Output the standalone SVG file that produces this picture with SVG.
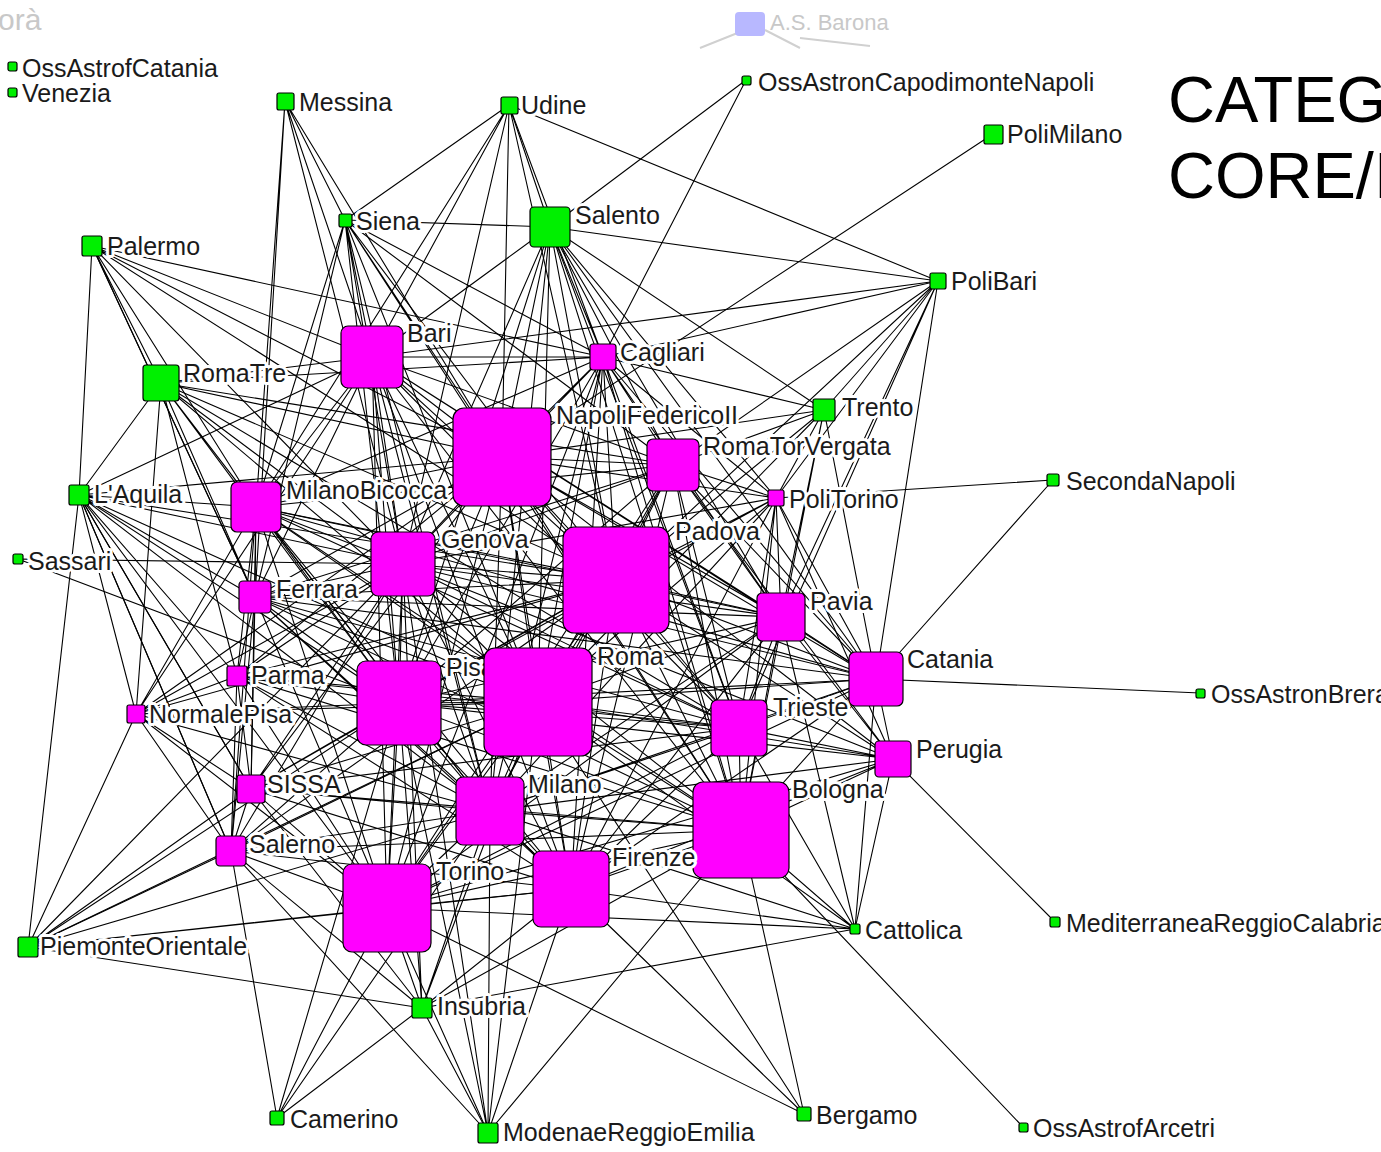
<svg xmlns="http://www.w3.org/2000/svg" width="1381" height="1152" viewBox="0 0 1381 1152">
<style>
.e{fill:none;stroke:#000;stroke-width:1.1}
.m{fill:#ff00ff;stroke:#000;stroke-width:1.2}
.g{fill:#00f000;stroke:#000;stroke-width:1.2}
.l{font-family:"Liberation Sans",Arial,sans-serif;font-size:25px;fill:#1a1a1a;paint-order:stroke;stroke:#fff;stroke-width:6px;stroke-linejoin:round}
.t{font-family:"Liberation Sans",Arial,sans-serif;font-size:65px;fill:#000}
.f{font-family:"Liberation Sans",Arial,sans-serif;fill:#c8c8c8}
</style>
<rect width="1381" height="1152" fill="#fff"/>
<g id="background">
<text class="f" x="-2" y="30" font-size="30">orà</text>
<path d="M700 48L745 30M765 30L800 48M800 38L870 46" stroke="#d0d0d0" stroke-width="2" fill="none"/>
<rect x="735" y="12" width="30" height="24" rx="4" fill="#b8b8ff"/>
<text class="f" x="770" y="30" font-size="22">A.S. Barona</text>
</g>
<g id="title">
<text class="t" x="1168" y="122">CATEG</text>
<text class="t" x="1168" y="198">CORE/I</text>
</g>
<g id="edges">
<path class="e" d="M502 457L616 580M502 457L538 702M502 457L399 703M502 457L403 564M502 457L372 357M502 457L490 811M502 457L387 908M502 457L571 889M502 457L741 830M502 457L673 465M502 457L256 507M502 457L739 728M502 457L876 679M502 457L781 617"/>
<path class="e" d="M616 580L538 702M616 580L399 703M616 580L403 564M616 580L372 357M616 580L490 811M616 580L387 908M616 580L571 889M616 580L741 830M616 580L673 465M616 580L256 507M616 580L739 728M616 580L876 679M616 580L781 617"/>
<path class="e" d="M538 702L399 703M538 702L403 564M538 702L372 357M538 702L490 811M538 702L387 908M538 702L571 889M538 702L741 830M538 702L673 465M538 702L256 507M538 702L739 728M538 702L876 679M538 702L781 617"/>
<path class="e" d="M399 703L403 564M399 703L372 357M399 703L490 811M399 703L387 908M399 703L571 889M399 703L741 830M399 703L673 465M399 703L256 507M399 703L739 728M399 703L876 679M399 703L781 617"/>
<path class="e" d="M403 564L372 357M403 564L490 811M403 564L387 908M403 564L571 889M403 564L741 830M403 564L673 465M403 564L256 507M403 564L739 728M403 564L876 679M403 564L781 617"/>
<path class="e" d="M372 357L490 811M372 357L387 908M372 357L571 889M372 357L741 830M372 357L673 465M372 357L256 507M372 357L739 728M372 357L876 679M372 357L781 617"/>
<path class="e" d="M490 811L387 908M490 811L571 889M490 811L741 830M490 811L673 465M490 811L256 507M490 811L739 728M490 811L876 679M490 811L781 617"/>
<path class="e" d="M387 908L571 889M387 908L741 830M387 908L673 465M387 908L256 507M387 908L739 728M387 908L876 679M387 908L781 617"/>
<path class="e" d="M571 889L741 830M571 889L673 465M571 889L256 507M571 889L739 728M571 889L876 679M571 889L781 617"/>
<path class="e" d="M741 830L673 465M741 830L256 507M741 830L739 728M741 830L876 679M741 830L781 617"/>
<path class="e" d="M673 465L256 507M673 465L739 728M673 465L876 679M673 465L781 617M256 507L739 728M256 507L876 679M256 507L781 617M739 728L876 679M739 728L781 617M876 679L781 617"/>
<path class="e" d="M603 357L502 457M603 357L616 580M603 357L538 702M603 357L399 703M603 357L403 564M603 357L372 357M603 357L490 811M603 357L387 908M603 357L741 830M603 357L673 465M603 357L739 728M603 357L876 679M603 357L781 617M603 357L776 498M603 357L824 410M603 357L550 227M603 357L345 220M603 357L509 105M603 357L938 281M603 357L161 383M603 357L92 246M603 357L256 507M603 357L571 889"/>
<path class="e" d="M255 597L502 457M255 597L616 580M255 597L538 702M255 597L399 703M255 597L403 564M255 597L372 357M255 597L490 811M255 597L387 908M255 597L571 889M255 597L741 830M255 597L256 507M255 597L739 728M255 597L876 679M255 597L781 617M255 597L237 676M255 597L251 789M255 597L79 495M255 597L161 383M255 597L92 246M255 597L673 465M255 597L231 851"/>
<path class="e" d="M237 676L616 580M237 676L538 702M237 676L399 703M237 676L403 564M237 676L490 811M237 676L387 908M237 676L256 507M237 676L741 830M237 676L739 728M237 676L136 714M237 676L251 789M237 676L79 495M237 676L161 383M237 676L502 457M237 676L571 889M237 676L231 851"/>
<path class="e" d="M136 714L399 703M136 714L538 702M136 714L403 564M136 714L616 580M136 714L490 811M136 714L387 908M136 714L251 789M136 714L231 851M136 714L28 947M136 714L79 495M136 714L161 383M136 714L256 507M136 714L502 457M136 714L372 357"/>
<path class="e" d="M251 789L399 703M251 789L538 702M251 789L616 580M251 789L490 811M251 789L387 908M251 789L403 564M251 789L571 889M251 789L741 830M251 789L231 851M251 789L739 728M251 789L28 947M251 789L79 495M251 789L502 457M251 789L256 507"/>
<path class="e" d="M231 851L399 703M231 851L538 702M231 851L490 811M231 851L387 908M231 851L571 889M231 851L616 580M231 851L403 564M231 851L28 947M231 851L422 1008M231 851L488 1133M231 851L277 1118M231 851L79 495M231 851L741 830M231 851L256 507"/>
<path class="e" d="M893 759L616 580M893 759L538 702M893 759L399 703M893 759L490 811M893 759L741 830M893 759L739 728M893 759L876 679M893 759L781 617M893 759L673 465M893 759L502 457M893 759L403 564M893 759L571 889M893 759L387 908M893 759L855 929M893 759L1055 922M893 759L776 498"/>
<path class="e" d="M776 498L616 580M776 498L538 702M776 498L673 465M776 498L781 617M776 498L876 679M776 498L739 728M776 498L741 830M776 498L502 457M776 498L399 703M776 498L490 811M776 498L824 410M776 498L938 281M776 498L1053 480M776 498L550 227M776 498L403 564M776 498L571 889"/>
<path class="e" d="M285 101L256 507M285 101L372 357M285 101L403 564M285 101L502 457M285 101L345 220M285 101L255 597"/>
<path class="e" d="M509 105L345 220M509 105L550 227M509 105L938 281M509 105L372 357M509 105L502 457M509 105L403 564M509 105L256 507M509 105L616 580"/>
<path class="e" d="M746 80L550 227M746 80L603 357M993 134L502 457"/>
<path class="e" d="M345 220L550 227M345 220L372 357M345 220L502 457M345 220L403 564M345 220L256 507M345 220L616 580M345 220L538 702M345 220L399 703M345 220L673 465M345 220L255 597M345 220L490 811M345 220L741 830"/>
<path class="e" d="M550 227L372 357M550 227L502 457M550 227L616 580M550 227L538 702M550 227L399 703M550 227L403 564M550 227L673 465M550 227L824 410M550 227L938 281M550 227L490 811M550 227L741 830M550 227L781 617M550 227L876 679M550 227L739 728"/>
<path class="e" d="M92 246L372 357M92 246L161 383M92 246L256 507M92 246L403 564M92 246L502 457M92 246L79 495M92 246L616 580M92 246L255 597"/>
<path class="e" d="M938 281L824 410M938 281L673 465M938 281L616 580M938 281L781 617M938 281L876 679M938 281L372 357M938 281L739 728"/>
<path class="e" d="M161 383L372 357M161 383L502 457M161 383L256 507M161 383L403 564M161 383L616 580M161 383L538 702M161 383L399 703M161 383L673 465M161 383L79 495M161 383L490 811M161 383L739 728"/>
<path class="e" d="M824 410L673 465M824 410L616 580M824 410L781 617M824 410L876 679M824 410L538 702M824 410L502 457M824 410L741 830"/>
<path class="e" d="M79 495L256 507M79 495L403 564M79 495L616 580M79 495L399 703M79 495L538 702M79 495L251 789M79 495L231 851M79 495L28 947M79 495L387 908M79 495L490 811M79 495L502 457M79 495L372 357"/>
<path class="e" d="M1053 480L876 679M18 559L403 564M18 559L399 703M1200 693L876 679M1023 1127L741 830"/>
<path class="e" d="M28 947L387 908M28 947L399 703M28 947L490 811M28 947L422 1008M28 947L403 564M28 947L571 889M28 947L538 702"/>
<path class="e" d="M422 1008L387 908M422 1008L571 889M422 1008L741 830M422 1008L490 811M422 1008L399 703M422 1008L538 702M422 1008L855 929M422 1008L488 1133M422 1008L277 1118M422 1008L403 564M422 1008L251 789"/>
<path class="e" d="M855 929L387 908M855 929L571 889M855 929L741 830M855 929L739 728M855 929L781 617M855 929L876 679M855 929L490 811M855 929L538 702"/>
<path class="e" d="M277 1118L387 908M277 1118L399 703M277 1118L490 811M488 1133L387 908M488 1133L490 811M488 1133L571 889M488 1133L399 703M488 1133L538 702M488 1133L403 564M488 1133L741 830"/>
<path class="e" d="M804 1114L571 889M804 1114L741 830M804 1114L490 811M804 1114L538 702M804 1114L387 908"/>
</g>
<g id="n-osscat"><rect class="g" x="8" y="62" width="9" height="9" rx="2"/><text class="l" x="22" y="77">OssAstrofCatania</text></g>
<g id="n-venezia"><rect class="g" x="8" y="88" width="9" height="9" rx="2"/><text class="l" x="22" y="102">Venezia</text></g>
<g id="n-messina"><rect class="g" x="277" y="93" width="17" height="17" rx="2"/><text class="l" x="299" y="111">Messina</text></g>
<g id="n-udine"><rect class="g" x="501" y="97" width="17" height="17" rx="2"/><text class="l" x="521" y="114">Udine</text></g>
<g id="n-capodimonte"><rect class="g" x="742" y="76" width="9" height="9" rx="2"/><text class="l" x="758" y="91">OssAstronCapodimonteNapoli</text></g>
<g id="n-polimilano"><rect class="g" x="984" y="125" width="19" height="19" rx="2"/><text class="l" x="1007" y="143">PoliMilano</text></g>
<g id="n-siena"><rect class="g" x="339" y="214" width="13" height="13" rx="2"/><text class="l" x="356" y="230">Siena</text></g>
<g id="n-salento"><rect class="g" x="530" y="207" width="40" height="40" rx="4"/><text class="l" x="575" y="224">Salento</text></g>
<g id="n-palermo"><rect class="g" x="82" y="236" width="20" height="20" rx="2"/><text class="l" x="107" y="255">Palermo</text></g>
<g id="n-polibari"><rect class="g" x="930" y="273" width="16" height="16" rx="2"/><text class="l" x="951" y="290">PoliBari</text></g>
<g id="n-romatre"><rect class="g" x="143" y="365" width="36" height="36" rx="3"/><text class="l" x="183" y="382">RomaTre</text></g>
<g id="n-trento"><rect class="g" x="813" y="399" width="22" height="22" rx="2"/><text class="l" x="842" y="416">Trento</text></g>
<g id="n-aquila"><rect class="g" x="69" y="485" width="20" height="20" rx="2"/><text class="l" x="94" y="503">L'Aquila</text></g>
<g id="n-seconda"><rect class="g" x="1047" y="474" width="12" height="12" rx="2"/><text class="l" x="1066" y="490">SecondaNapoli</text></g>
<g id="n-sassari"><rect class="g" x="13" y="554" width="10" height="10" rx="2"/><text class="l" x="28" y="570">Sassari</text></g>
<g id="n-brera"><rect class="g" x="1196" y="689" width="9" height="9" rx="2"/><text class="l" x="1211" y="703">OssAstronBrera</text></g>
<g id="n-piemonte"><rect class="g" x="18" y="937" width="20" height="20" rx="2"/><text class="l" x="40" y="955">PiemonteOrientale</text></g>
<g id="n-insubria"><rect class="g" x="412" y="998" width="20" height="20" rx="2"/><text class="l" x="437" y="1015">Insubria</text></g>
<g id="n-cattolica"><rect class="g" x="850" y="924" width="10" height="10" rx="2"/><text class="l" x="865" y="939">Cattolica</text></g>
<g id="n-mediterranea"><rect class="g" x="1050" y="917" width="10" height="10" rx="2"/><text class="l" x="1066" y="932">MediterraneaReggioCalabria</text></g>
<g id="n-camerino"><rect class="g" x="270" y="1111" width="14" height="14" rx="2"/><text class="l" x="290" y="1128">Camerino</text></g>
<g id="n-modena"><rect class="g" x="478" y="1123" width="20" height="20" rx="2"/><text class="l" x="503" y="1141">ModenaeReggioEmilia</text></g>
<g id="n-bergamo"><rect class="g" x="797" y="1107" width="14" height="14" rx="2"/><text class="l" x="816" y="1124">Bergamo</text></g>
<g id="n-arcetri"><rect class="g" x="1019" y="1123" width="9" height="9" rx="2"/><text class="l" x="1033" y="1137">OssAstrofArcetri</text></g>
<g id="n-cagliari"><rect class="m" x="590" y="344" width="26" height="26" rx="3"/><text class="l" x="620" y="361">Cagliari</text></g>
<g id="n-politorino"><rect class="m" x="768" y="490" width="16" height="16" rx="2"/><text class="l" x="789" y="508">PoliTorino</text></g>
<g id="n-ferrara"><rect class="m" x="239" y="581" width="32" height="32" rx="4"/><text class="l" x="276" y="598">Ferrara</text></g>
<g id="n-parma"><rect class="m" x="227" y="666" width="20" height="20" rx="2"/><text class="l" x="251" y="684">Parma</text></g>
<g id="n-normale"><rect class="m" x="127" y="705" width="18" height="18" rx="2"/><text class="l" x="149" y="723">NormalePisa</text></g>
<g id="n-sissa"><rect class="m" x="237" y="775" width="28" height="28" rx="3"/><text class="l" x="267" y="793">SISSA</text></g>
<g id="n-salerno"><rect class="m" x="216" y="836" width="30" height="30" rx="4"/><text class="l" x="249" y="853">Salerno</text></g>
<g id="n-perugia"><rect class="m" x="875" y="741" width="36" height="36" rx="4"/><text class="l" x="916" y="758">Perugia</text></g>
<g id="n-bari"><rect class="m" x="341" y="326" width="62" height="62" rx="7"/><text class="l" x="407" y="342">Bari</text></g>
<g id="n-napoli"><rect class="m" x="453" y="408" width="98" height="98" rx="11"/><text class="l" x="556" y="424">NapoliFedericoII</text></g>
<g id="n-rtv"><rect class="m" x="647" y="439" width="52" height="52" rx="6"/><text class="l" x="703" y="455">RomaTorVergata</text></g>
<g id="n-bicocca"><rect class="m" x="231" y="482" width="50" height="50" rx="6"/><text class="l" x="286" y="499">MilanoBicocca</text></g>
<g id="n-genova"><rect class="m" x="371" y="532" width="64" height="64" rx="7"/><text class="l" x="441" y="548">Genova</text></g>
<g id="n-padova"><rect class="m" x="563" y="527" width="106" height="106" rx="11"/><text class="l" x="675" y="540">Padova</text></g>
<g id="n-pavia"><rect class="m" x="757" y="593" width="48" height="48" rx="5"/><text class="l" x="810" y="610">Pavia</text></g>
<g id="n-catania"><rect class="m" x="849" y="652" width="54" height="54" rx="6"/><text class="l" x="907" y="668">Catania</text></g>
<g id="n-pisa"><rect class="m" x="357" y="661" width="84" height="84" rx="9"/><text class="l" x="446" y="676">Pisa</text></g>
<g id="n-roma"><rect class="m" x="484" y="648" width="108" height="108" rx="11"/><text class="l" x="597" y="665">Roma</text></g>
<g id="n-trieste"><rect class="m" x="711" y="700" width="56" height="56" rx="6"/><text class="l" x="773" y="716">Trieste</text></g>
<g id="n-milano"><rect class="m" x="456" y="777" width="68" height="68" rx="7"/><text class="l" x="528" y="793">Milano</text></g>
<g id="n-bologna"><rect class="m" x="693" y="782" width="96" height="96" rx="10"/><text class="l" x="792" y="798">Bologna</text></g>
<g id="n-firenze"><rect class="m" x="533" y="851" width="76" height="76" rx="8"/><text class="l" x="612" y="866">Firenze</text></g>
<g id="n-torino"><rect class="m" x="343" y="864" width="88" height="88" rx="9"/><text class="l" x="436" y="880">Torino</text></g>
</svg>
